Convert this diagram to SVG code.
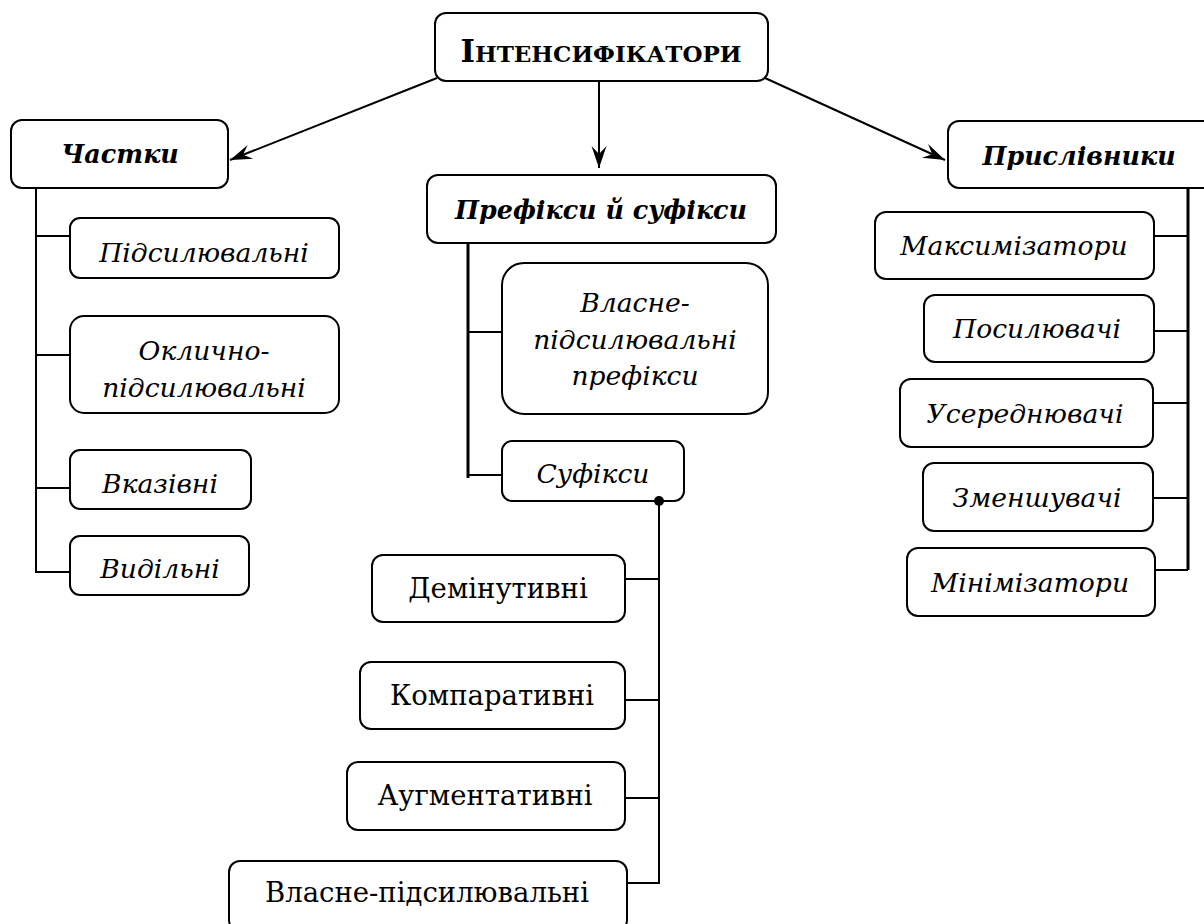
<svg xmlns="http://www.w3.org/2000/svg" width="1204" height="924" viewBox="0 0 1204 924">
  <defs>
    <marker id="arrow" markerUnits="userSpaceOnUse" markerWidth="30" markerHeight="20" viewBox="-24 -10 26 20" refX="0" refY="0" orient="auto">
      <path d="M0,0 L-22,-7.5 L-14,0 L-22,7.5 Z" fill="#000"/>
    </marker>
  </defs>
  <style>
    .box { fill: #fff; stroke: #000; stroke-width: 2; }
    .t { font-family: "DejaVu Serif", "Liberation Serif", serif; fill: #000; text-anchor: middle; }
    .reg { font-size: 27.5px; }
    .it { font-size: 26.6px; font-style: italic; }
    .bi { font-size: 25.4px; font-style: italic; font-weight: bold; }
    .title { font-size: 31px; font-weight: bold; }
    .sc { font-size: 23px; }
    .line { fill: none; stroke: #000; stroke-width: 2; }
    .trunk { fill: none; stroke: #000; stroke-width: 3; }
    .arr { fill: none; stroke: #000; stroke-width: 2; marker-end: url(#arrow); }
  </style>

  <g id="n-root">
    <rect class="box" x="435" y="13" width="333" height="68" rx="11"/>
    <text class="t title" x="601" y="62"><tspan>І</tspan><tspan class="sc">НТЕНСИФІКАТОРИ</tspan></text>
  </g>

  <g id="n-particles">
    <rect class="box" x="11" y="120" width="217" height="68" rx="11"/>
    <text class="t bi" x="120" y="163">Частки</text>
  </g>
  <g id="n-p1">
    <rect class="box" x="70" y="218" width="269" height="60" rx="10"/>
    <text class="t it" x="204" y="262">Підсилювальні</text>
  </g>
  <g id="n-p2">
    <rect class="box" x="70" y="316" width="269" height="97" rx="14"/>
    <text class="t it" x="204" y="360">Оклично-</text>
    <text class="t it" x="204" y="397">підсилювальні</text>
  </g>
  <g id="n-p3">
    <rect class="box" x="70" y="450" width="181" height="59" rx="10"/>
    <text class="t it" x="160" y="493">Вказівні</text>
  </g>
  <g id="n-p4">
    <rect class="box" x="70" y="536" width="179" height="59" rx="10"/>
    <text class="t it" x="160" y="578">Видільні</text>
  </g>

  <g id="n-affixes">
    <rect class="box" x="427" y="175" width="349" height="68" rx="11"/>
    <text class="t bi" x="601" y="219">Префікси й суфікси</text>
  </g>
  <g id="n-a1">
    <rect class="box" x="502" y="263" width="266" height="151" rx="22"/>
    <text class="t it" x="635" y="312">Власне-</text>
    <text class="t it" x="635" y="349">підсилювальні</text>
    <text class="t it" x="635" y="385">префікси</text>
  </g>
  <g id="n-a2">
    <rect class="box" x="502" y="441" width="182" height="60" rx="10"/>
    <text class="t it" x="593" y="483">Суфікси</text>
  </g>
  <g id="n-s1">
    <rect class="box" x="372" y="555" width="253" height="67" rx="11"/>
    <text class="t reg" x="498" y="598">Демінутивні</text>
  </g>
  <g id="n-s2">
    <rect class="box" x="360" y="662" width="265" height="67" rx="11"/>
    <text class="t reg" x="492" y="705">Компаративні</text>
  </g>
  <g id="n-s3">
    <rect class="box" x="347" y="762" width="278" height="68" rx="11"/>
    <text class="t reg" x="485" y="805">Аугментативні</text>
  </g>
  <g id="n-s4">
    <rect class="box" x="229" y="861" width="398" height="70" rx="11"/>
    <text class="t reg" x="427" y="902">Власне-підсилювальні</text>
  </g>

  <g id="n-adverbs">
    <rect class="box" x="948" y="121" width="266" height="67" rx="11"/>
    <text class="t bi" x="1079" y="165">Прислівники</text>
  </g>
  <g id="n-d1">
    <rect class="box" x="875" y="212" width="279" height="67" rx="11"/>
    <text class="t it" x="1014" y="255">Максимізатори</text>
  </g>
  <g id="n-d2">
    <rect class="box" x="924" y="295" width="230" height="67" rx="11"/>
    <text class="t it" x="1037" y="338">Посилювачі</text>
  </g>
  <g id="n-d3">
    <rect class="box" x="900" y="379" width="253" height="68" rx="11"/>
    <text class="t it" x="1025" y="423">Усереднювачі</text>
  </g>
  <g id="n-d4">
    <rect class="box" x="923" y="463" width="230" height="68" rx="11"/>
    <text class="t it" x="1037" y="507">Зменшувачі</text>
  </g>
  <g id="n-d5">
    <rect class="box" x="907" y="548" width="248" height="68" rx="11"/>
    <text class="t it" x="1030" y="592">Мінімізатори</text>
  </g>

  <g id="connectors">
    <!-- top level arrows -->
    <line class="arr" x1="437" y1="78" x2="230" y2="160"/>
    <line class="arr" x1="599" y1="82" x2="599" y2="168"/>
    <line class="arr" x1="765" y1="78" x2="945" y2="160"/>
    <!-- particles -->
    <path class="line" d="M36,189 V572 H69 M36,236 H69 M36,355 H69 M36,488 H69"/>
    <!-- prefixes and suffixes -->
    <path class="trunk" d="M468,244 V478"/>
    <path class="line" d="M468,332 H501 M468,475 H501"/>
    <!-- suffix types -->
    <circle cx="659" cy="501" r="5" fill="#000"/>
    <path class="line" d="M659,501 V883 H628 M659,579 H626 M659,700 H626 M659,798 H626"/>
    <!-- adverbs -->
    <path class="trunk" d="M1188,189 V570"/>
    <path class="line" d="M1188,570 H1156 M1188,236 H1155 M1188,331 H1155 M1188,403 H1154 M1188,498 H1154"/>
  </g>
</svg>
